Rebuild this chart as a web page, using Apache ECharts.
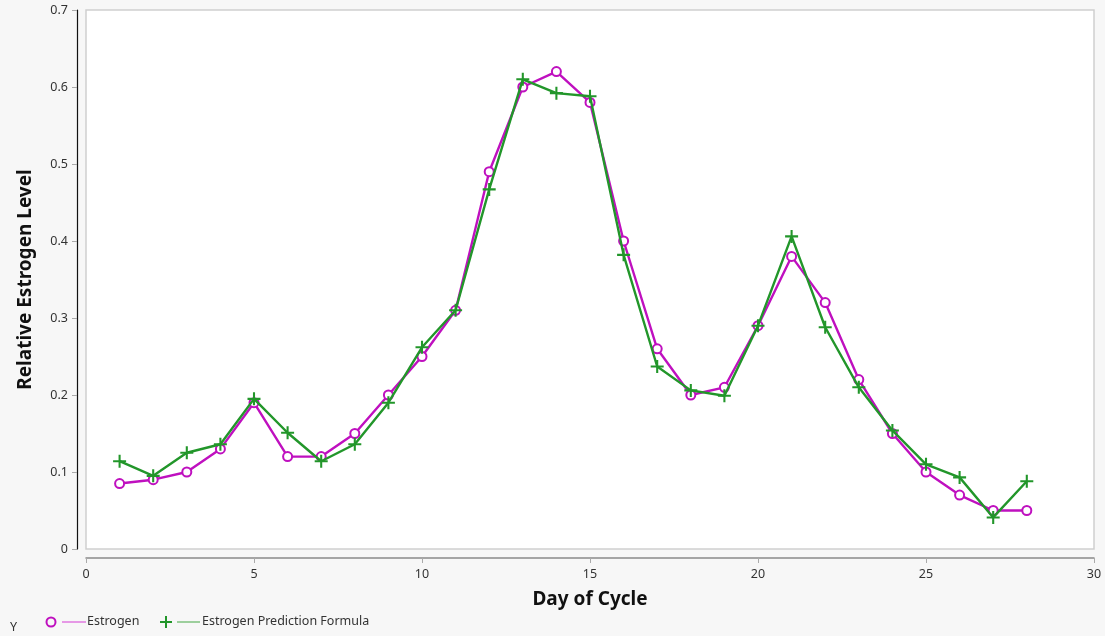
<!DOCTYPE html>
<html>
<head>
<meta charset="utf-8">
<script src="https://cdn.jsdelivr.net/npm/echarts@6/dist/echarts.min.js"></script>
<style>
  html, body { margin: 0; padding: 0; background: #f7f7f7; }
  #chart { width: 1105px; height: 636px; }
</style>
</head>
<body>
<div id="chart"></div>
<script>
// Day of cycle (x values)
const days = [1, 2, 3, 4, 5, 6, 7, 8, 9, 10, 11, 12, 13, 14, 15, 16, 17, 18, 19, 20, 21, 22, 23, 24, 25, 26, 27, 28];
// Measured estrogen level
const estrogen = [0.085, 0.09, 0.10, 0.13, 0.19, 0.12, 0.12, 0.15, 0.20, 0.25, 0.31, 0.49, 0.60, 0.62, 0.58, 0.40, 0.26, 0.20, 0.21, 0.29, 0.38, 0.32, 0.22, 0.15, 0.10, 0.07, 0.05, 0.05];
// Values from the prediction formula
const prediction = [0.114, 0.095, 0.125, 0.136, 0.195, 0.151, 0.114, 0.136, 0.19, 0.262, 0.31, 0.467, 0.61, 0.592, 0.588, 0.382, 0.237, 0.206, 0.199, 0.29, 0.406, 0.288, 0.21, 0.154, 0.11, 0.093, 0.041, 0.088];
const seriesNames = ['Estrogen', 'Estrogen Prediction Formula'];
const xTicks = { min: 0, max: 30, interval: 5 };
const yTicks = { min: 0, max: 0.7, interval: 0.1 };

const MAGENTA = '#bf10bf';
const GREEN = '#22962a';
const FONT = '"Noto Sans", "Open Sans", sans-serif';
const PLUS = 'path://M4.2,0 H5.8 V4.2 H10 V5.8 H5.8 V10 H4.2 V5.8 H0 V4.2 H4.2 Z';

const chart = echarts.init(document.getElementById('chart'), null, { renderer: 'canvas' });

chart.setOption({
  backgroundColor: '#f7f7f7',
  animation: false,
  grid: {
    left: 86, right: 11, top: 10, bottom: 87,
    show: true, backgroundColor: '#ffffff', borderColor: '#cfcfcf', borderWidth: 1.5
  },
  xAxis: {
    type: 'value',
    min: xTicks.min, max: xTicks.max, interval: xTicks.interval,
    offset: 9,
    name: 'Day of Cycle', nameLocation: 'middle', nameGap: 32,
    nameTextStyle: { fontFamily: FONT, fontSize: 19, fontWeight: 'bold', color: '#111' },
    axisLine: { show: true, onZero: false, lineStyle: { color: '#8a8a8a', width: 1.5 } },
    axisTick: { show: true, length: 5, lineStyle: { color: '#aaa' } },
    axisLabel: { fontFamily: FONT, fontSize: 12.5, color: '#333', margin: 10 },
    splitLine: { show: false }
  },
  yAxis: {
    type: 'value',
    min: yTicks.min, max: yTicks.max, interval: yTicks.interval,
    offset: 9,
    name: 'Relative Estrogen Level', nameLocation: 'middle', nameGap: 42,
    nameTextStyle: { fontFamily: FONT, fontSize: 19, fontWeight: 'bold', color: '#111' },
    axisLine: { show: true, onZero: false, lineStyle: { color: '#111', width: 1.2 } },
    axisTick: { show: true, length: 5, lineStyle: { color: '#aaa' } },
    axisLabel: { fontFamily: FONT, fontSize: 12.5, color: '#333', margin: 9 },
    splitLine: { show: false }
  },
  series: [
    {
      name: seriesNames[0],
      type: 'line',
      data: days.map((d, i) => [d, estrogen[i]]),
      symbol: 'emptyCircle', symbolSize: 9,
      lineStyle: { color: MAGENTA, width: 2.4 },
      itemStyle: { color: MAGENTA, borderColor: MAGENTA, borderWidth: 1.5 },
      z: 2
    },
    {
      name: seriesNames[1],
      type: 'line',
      data: days.map((d, i) => [d, prediction[i]]),
      symbol: PLUS, symbolSize: 13, symbolKeepAspect: true,
      showAllSymbol: true,
      lineStyle: { color: GREEN, width: 2.4 },
      itemStyle: { color: GREEN, borderWidth: 0 },
      z: 3
    }
  ],
  graphic: [
    { type: 'text', x: 10, y: 621, style: { text: 'Y', font: '12.5px ' + FONT, fill: '#333' } },
    { type: 'circle', shape: { cx: 51, cy: 622, r: 4.5 }, style: { fill: 'none', stroke: MAGENTA, lineWidth: 2 } },
    { type: 'line', shape: { x1: 62, y1: 622, x2: 86, y2: 622 }, style: { stroke: '#e07ae0', lineWidth: 1.5 } },
    { type: 'text', x: 87, y: 615, style: { text: seriesNames[0], font: '12.5px ' + FONT, fill: '#333' } },
    { type: 'line', shape: { x1: 160, y1: 622, x2: 172, y2: 622 }, style: { stroke: GREEN, lineWidth: 2 } },
    { type: 'line', shape: { x1: 166, y1: 616, x2: 166, y2: 628 }, style: { stroke: GREEN, lineWidth: 2 } },
    { type: 'line', shape: { x1: 177, y1: 622, x2: 200, y2: 622 }, style: { stroke: '#7fc27f', lineWidth: 1.5 } },
    { type: 'text', x: 202, y: 615, style: { text: seriesNames[1], font: '12.5px ' + FONT, fill: '#333' } }
  ]
});
</script>
</body>
</html>
